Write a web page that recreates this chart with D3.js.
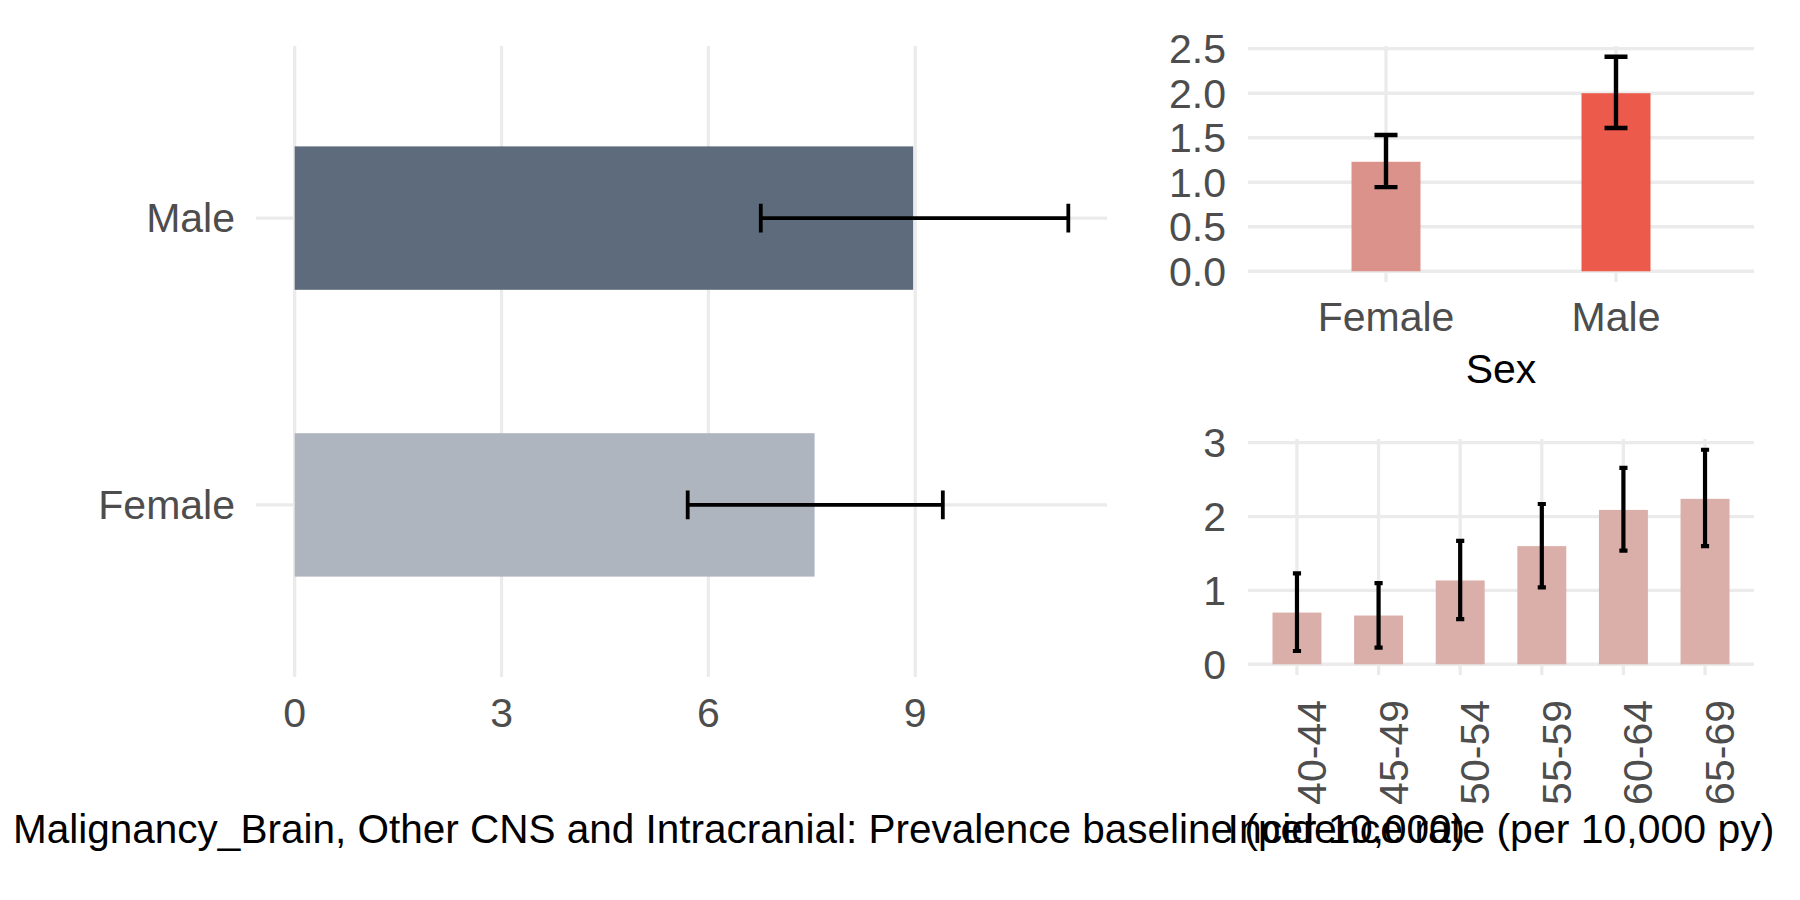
<!DOCTYPE html>
<html>
<head>
<meta charset="utf-8">
<script src="https://cdn.jsdelivr.net/npm/d3@7"></script>
<style>
  body { margin: 0; background: #fff; }
  text { font-family: "Liberation Sans", Arial, sans-serif; }
</style>
</head>
<body>
<div id="chart"></div>
<script>
// prevalence by sex (left panel)
const prevSex = ["Female", "Male"];
const prevValue = [7.54, 8.97];
const prevLower = [5.70, 6.76];
const prevUpper = [9.40, 11.22];
const prevTicks = [0, 3, 6, 9];
const prevTitle = "Malignancy_Brain, Other CNS and Intracranial: Prevalence baseline (per 10,000)";

// incidence by sex (top right)
const incSex = ["Female", "Male"];
const incSexValue = [1.23, 2.00];
const incSexLower = [0.945, 1.61];
const incSexUpper = [1.53, 2.41];
const incSexTicks = [0, 0.5, 1.0, 1.5, 2.0, 2.5];

// incidence by age (bottom right)
const ageGroups = ["40-44", "45-49", "50-54", "55-59", "60-64", "65-69"];
const incAgeValue = [0.70, 0.66, 1.135, 1.60, 2.09, 2.24];
const incAgeLower = [0.18, 0.225, 0.61, 1.04, 1.54, 1.60];
const incAgeUpper = [1.23, 1.10, 1.67, 2.17, 2.66, 2.905];
const incAgeTicks = [0, 1, 2, 3];
const incTitle = "Incidence rate (per 10,000 py)";

const width = 1800;
const height = 900;
const fontSize = 41;
const gridColor = "#EBEBEB";
const tickColor = "#4D4D4D";

const svg = d3.select("#chart")
    .append("svg")
        .attr("width", width)
        .attr("height", height)
        .attr("viewBox", [0, 0, width, height]);

// 5% expansion like ggplot
function expand(lo, hi) {
    const pad = (hi - lo) * 0.05;
    return [lo - pad, hi + pad];
}

// ---- left panel: horizontal bars ----
const left = { x0: 256, x1: 1107, y0: 46, y1: 677 };
const xPrev = d3.scaleLinear()
    .domain(expand(0, d3.max(prevUpper)))
    .range([left.x0, left.x1]);
const yPrev = d3.scalePoint()
    .domain(prevSex)
    .range([left.y1, left.y0])
    .padding(0.6);
const prevStep = yPrev.step();

const gLeft = svg.append("g");
gLeft.append("g").selectAll("line.v")
    .data(prevTicks)
    .enter().append("line")
        .attr("x1", d => xPrev(d)).attr("x2", d => xPrev(d))
        .attr("y1", left.y0).attr("y2", left.y1)
        .attr("stroke", gridColor).attr("stroke-width", 3.3);
gLeft.append("g").selectAll("line.h")
    .data(prevSex)
    .enter().append("line")
        .attr("x1", left.x0).attr("x2", left.x1)
        .attr("y1", d => yPrev(d)).attr("y2", d => yPrev(d))
        .attr("stroke", gridColor).attr("stroke-width", 3.3);

const prevColors = { Female: "#AEB5BF", Male: "#5D6B7C" };
gLeft.append("g").selectAll("rect")
    .data(prevSex)
    .enter().append("rect")
        .attr("x", xPrev(0))
        .attr("y", d => yPrev(d) - prevStep * 0.25)
        .attr("width", (d, i) => xPrev(prevValue[i]) - xPrev(0))
        .attr("height", prevStep * 0.5)
        .attr("fill", d => prevColors[d]);

const prevErr = gLeft.append("g")
    .attr("stroke", "#000").attr("stroke-width", 3.8).attr("fill", "none");
prevSex.forEach((s, i) => {
    const y = yPrev(s), h = prevStep * 0.05;
    prevErr.append("path")
        .attr("d", `M${xPrev(prevLower[i])},${y - h}V${y + h}M${xPrev(prevLower[i])},${y}H${xPrev(prevUpper[i])}M${xPrev(prevUpper[i])},${y - h}V${y + h}`);
});

gLeft.append("g").selectAll("text")
    .data(prevTicks)
    .enter().append("text")
        .attr("x", d => xPrev(d))
        .attr("y", 727)
        .attr("text-anchor", "middle")
        .attr("font-size", fontSize)
        .attr("fill", tickColor)
        .text(d => d);
gLeft.append("g").selectAll("text")
    .data(prevSex)
    .enter().append("text")
        .attr("x", 235)
        .attr("y", d => yPrev(d))
        .attr("dy", "0.35em")
        .attr("text-anchor", "end")
        .attr("font-size", fontSize)
        .attr("fill", tickColor)
        .text(d => d);
// long title runs under the right column, as in the original
gLeft.append("text")
    .attr("x", 13)
    .attr("y", 843)
    .attr("text-anchor", "start")
    .attr("font-size", 40.5)
    .attr("fill", "#000")
    .text(prevTitle);

// ---- vertical bar panel helper ----
function verticalPanel(box, cats, vals, lo, hi, ticks, fmt, barFrac, colorOf, errWidth) {
    const x = d3.scalePoint().domain(cats).range([box.x0, box.x1]).padding(0.6);
    const y = d3.scaleLinear().domain(expand(0, d3.max(hi))).range([box.y1, box.y0]);
    const step = x.step();
    const g = svg.append("g");

    g.append("g").selectAll("line")
        .data(ticks)
        .enter().append("line")
            .attr("x1", box.x0).attr("x2", box.x1)
            .attr("y1", d => y(d)).attr("y2", d => y(d))
            .attr("stroke", gridColor).attr("stroke-width", 3.3);
    g.append("g").selectAll("line")
        .data(cats)
        .enter().append("line")
            .attr("x1", d => x(d)).attr("x2", d => x(d))
            .attr("y1", box.y0).attr("y2", box.y1)
            .attr("stroke", gridColor).attr("stroke-width", 3.3);

    g.append("g").selectAll("rect")
        .data(cats)
        .enter().append("rect")
            .attr("x", d => x(d) - step * barFrac / 2)
            .attr("y", (d, i) => y(vals[i]))
            .attr("width", step * barFrac)
            .attr("height", (d, i) => y(0) - y(vals[i]))
            .attr("fill", (d, i) => colorOf(d, i));

    const err = g.append("g").attr("stroke", "#000").attr("stroke-width", errWidth).attr("fill", "none");
    cats.forEach((c, i) => {
        const cx = x(c), w = step * 0.05;
        err.append("path")
            .attr("d", `M${cx - w},${y(hi[i])}H${cx + w}M${cx},${y(hi[i])}V${y(lo[i])}M${cx - w},${y(lo[i])}H${cx + w}`);
    });

    g.append("g").selectAll("text")
        .data(ticks)
        .enter().append("text")
            .attr("x", 1226)
            .attr("y", d => y(d))
            .attr("dy", "0.35em")
            .attr("text-anchor", "end")
            .attr("font-size", fontSize)
            .attr("fill", tickColor)
            .text(fmt);
    return { g, x, y };
}

// ---- top right: incidence by sex ----
const sexColors = { Female: "#DB928A", Male: "#EB5A4A" };
const sexPanel = verticalPanel({ x0: 1248, x1: 1754, y0: 46, y1: 282 },
    incSex, incSexValue, incSexLower, incSexUpper, incSexTicks, d3.format(".1f"),
    0.3, d => sexColors[d], 4.4);
sexPanel.g.append("g").selectAll("text.xl")
    .data(incSex)
    .enter().append("text")
        .attr("x", d => sexPanel.x(d))
        .attr("y", 331)
        .attr("text-anchor", "middle")
        .attr("font-size", fontSize)
        .attr("fill", tickColor)
        .text(d => d);
sexPanel.g.append("text")
    .attr("x", (1248 + 1754) / 2)
    .attr("y", 383)
    .attr("text-anchor", "middle")
    .attr("font-size", fontSize)
    .attr("fill", "#000")
    .text("Sex");

// ---- bottom right: incidence by age ----
const agePanel = verticalPanel({ x0: 1248, x1: 1754, y0: 439, y1: 675 },
    ageGroups, incAgeValue, incAgeLower, incAgeUpper, incAgeTicks, d3.format("d"),
    0.6, () => "#DBAFA9", 4.2);
agePanel.g.append("g").selectAll("text.xl")
    .data(ageGroups)
    .enter().append("text")
        .attr("transform", d => `translate(${agePanel.x(d) + 29},700) rotate(-90)`)
        .attr("text-anchor", "end")
        .attr("font-size", fontSize)
        .attr("fill", tickColor)
        .text(d => d);
agePanel.g.append("text")
    .attr("x", (1248 + 1754) / 2)
    .attr("y", 843)
    .attr("text-anchor", "middle")
    .attr("font-size", fontSize)
    .attr("fill", "#000")
    .text(incTitle);
</script>
</body>
</html>
